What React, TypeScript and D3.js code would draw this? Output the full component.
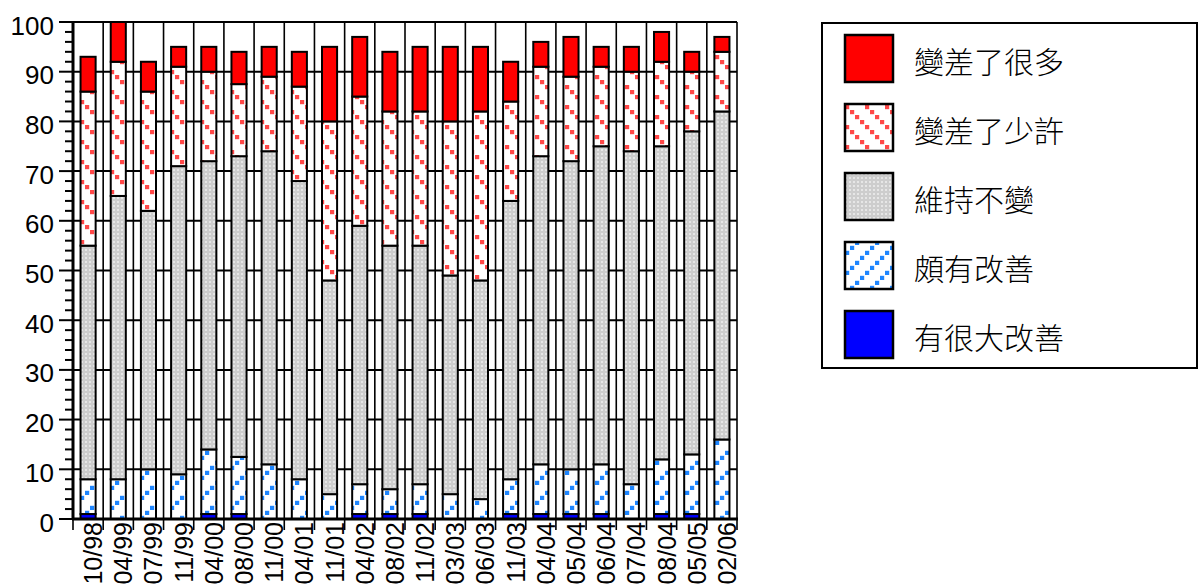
import React from 'react';
import * as d3 from 'd3';

const categories = ['10/98','04/99','07/99','11/99','04/00','08/00','11/00','04/01','11/01','04/02','08/02','11/02','03/03','06/03','11/03','04/04','05/04','06/04','07/04','08/04','05/05','02/06'];
// 有很大改善
const muchBetter = [1,0,0,0,1,1,0,0,0,1,1,1,0,0,1,1,1,1,0,1,1,0];
// 頗有改善
const better = [7,8,10,9,13,11.5,11,8,5,6,5,6,5,4,7,10,9,10,7,11,12,16];
// 維持不變
const unchanged = [47,57,52,62,58,60.5,63,60,43,52,49,48,44,44,56,62,62,64,67,63,65,66];
// 變差了少許
const littleWorse = [31,27,24,20,18,14.5,15,19,32,26,27,27,31,34,20,18,17,16,16,17,12,12];
// 變差了很多
const muchWorse = [7,8,6,4,5,6.5,6,7,15,12,12,13,15,13,8,5,8,4,5,6,4,3];

const seriesKeys = ['muchBetter','better','unchanged','littleWorse','muchWorse'];
const legendNames = ['變差了很多','變差了少許','維持不變','頗有改善','有很大改善'];
const legendKeys = ['muchWorse','littleWorse','unchanged','better','muchBetter'];
const yTicks = [0,10,20,30,40,50,60,70,80,90,100];
const yMinorTicks = d3.range(0, 101, 2);

const fills: Record<string,string> = {
  muchBetter: '#0000FF',
  better: 'url(#patBlue)',
  unchanged: 'url(#patGray)',
  littleWorse: 'url(#patRed)',
  muchWorse: '#FF0000',
};

export default function App() {
  const left = 73, right = 737, top = 22, bottom = 519;
  const x = d3.scaleBand<string>().domain(categories).range([left, right]).paddingInner(0.5).paddingOuter(0.25);
  const y = d3.scaleLinear().domain([0, 100]).range([bottom, top]);
  const step = x.step();
  const boundaries = d3.range(categories.length + 1).map(i => left + step * i);

  const rows = categories.map((c, i) => ({
    cat: c,
    muchBetter: muchBetter[i], better: better[i], unchanged: unchanged[i],
    littleWorse: littleWorse[i], muchWorse: muchWorse[i],
  }));
  const stacked = d3.stack<any>().keys(seriesKeys)(rows);

  const tickFont = '"Liberation Sans", Arial, sans-serif';

  return (
    <svg width={1198} height={586} style={{ position: 'absolute', left: 0, top: 0, background: '#fff' }}>
      <defs>
        <pattern id="patRed" patternUnits="userSpaceOnUse" width={20} height={20}>
          <rect width={20} height={20} fill="#fff" />
          {[0,1,2,3].map(i => (
            <rect key={i} x={i * 5} y={i * 5} width={4.2} height={4.2} fill="#FF4848" />
          ))}
        </pattern>
        <pattern id="patBlue" patternUnits="userSpaceOnUse" width={20} height={20}>
          <rect width={20} height={20} fill="#fff" />
          {[0,1,2,3].map(i => (
            <rect key={i} x={i * 5} y={15.8 - i * 5} width={4.2} height={4.2} fill="#1E86FF" />
          ))}
        </pattern>
        <pattern id="patGray" patternUnits="userSpaceOnUse" width={4} height={4}>
          <rect width={4} height={4} fill="#CDCDCD" />
          <rect x={1} y={1} width={2} height={2} fill="#E6E6E6" />
        </pattern>
      </defs>

      {/* horizontal gridlines */}
      {yTicks.filter(t => t > 0).map(t => (
        <line key={'h' + t} x1={left} x2={right} y1={y(t)} y2={y(t)} stroke="#000" strokeWidth={2} />
      ))}
      {/* vertical gridlines */}
      {boundaries.map((b, i) => (
        <line key={'v' + i} x1={b} x2={b} y1={top} y2={bottom} stroke="#000" strokeWidth={1.6} />
      ))}

      {/* bars */}
      {stacked.map(s => (
        <g key={s.key}>
          {s.map((d, i) => {
            const h = y(d[0]) - y(d[1]);
            if (h <= 0.01) return null;
            return (
              <rect key={i} x={x(categories[i])} y={y(d[1])} width={x.bandwidth()} height={h}
                fill={fills[s.key]} stroke="#000" strokeWidth={2} />
            );
          })}
        </g>
      ))}

      {/* y axis */}
      <line x1={left} x2={left} y1={top - 1} y2={bottom + 1} stroke="#000" strokeWidth={3} />
      {yMinorTicks.map(t => (
        <line key={'m' + t} x1={t % 10 === 0 ? 59 : 65} x2={left} y1={y(t)} y2={y(t)} stroke="#000" strokeWidth={2} />
      ))}
      {yTicks.map(t => (
        <text key={'yl' + t} x={54} y={y(t) + 12.5} textAnchor="end"
          fontFamily={tickFont} fontSize={26} fill="#000">{t}</text>
      ))}

      {/* x axis */}
      <line x1={left - 1} x2={right + 1} y1={bottom} y2={bottom} stroke="#000" strokeWidth={3} />
      {boundaries.map((b, i) => (
        <line key={'xt' + i} x1={b} x2={b} y1={bottom} y2={bottom + 11} stroke="#000" strokeWidth={1.6} />
      ))}
      {categories.map(c => {
        const cx = (x(c) as number) + x.bandwidth() / 2 + 14;
        const cy = 522;
        return (
          <text key={'xl' + c} x={cx} y={cy} transform={`rotate(-90, ${cx}, ${cy})`} textAnchor="end"
            fontFamily={tickFont} fontSize={25} fill="#000">{c}</text>
        );
      })}

      {/* legend */}
      <rect x={822} y={23} width={375} height={345} fill="#fff" stroke="#000" strokeWidth={2} />
      {legendKeys.map((k, i) => {
        const sy = 35 + i * 69;
        return (
          <g key={'lg' + k}>
            <rect x={845} y={sy} width={48} height={47} fill={fills[k]} stroke="#000" strokeWidth={2.5} />
            <text x={914} y={sy + 25} dominantBaseline="central" fontFamily='"Noto Sans CJK TC", "Noto Sans CJK SC", sans-serif'
              fontWeight={300} fontSize={30} fill="#000">{legendNames[i]}</text>
          </g>
        );
      })}
    </svg>
  );
}
